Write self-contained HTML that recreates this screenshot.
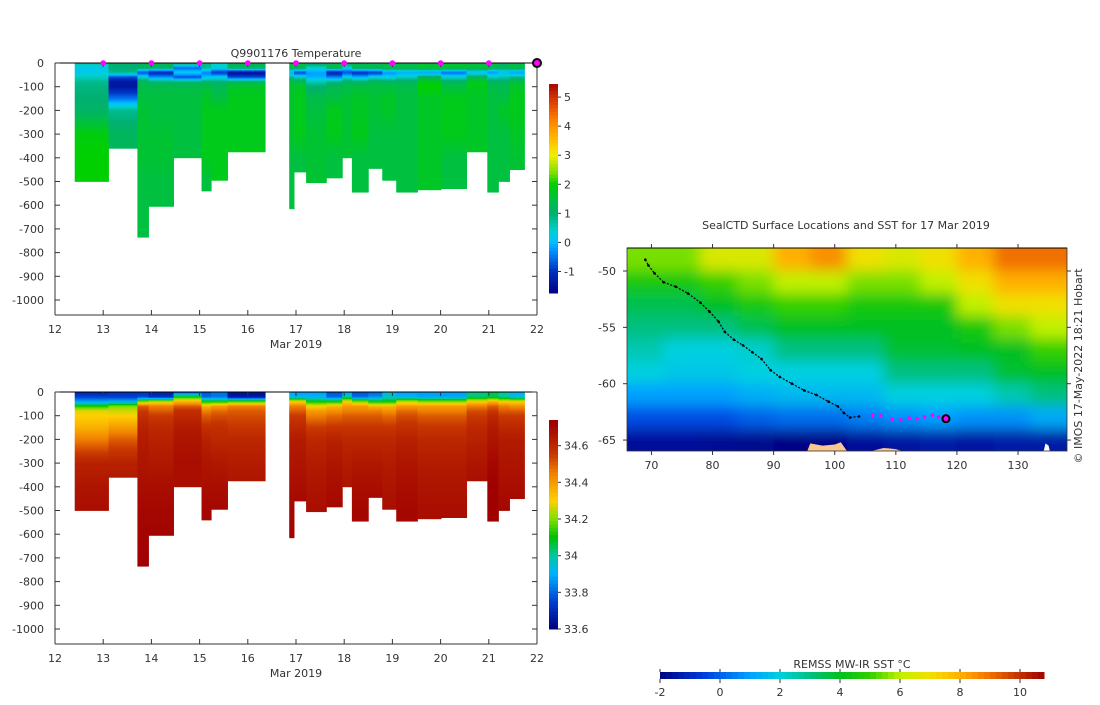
<!DOCTYPE html>
<html><head><meta charset="utf-8"><style>
body{margin:0;background:#fff;width:1100px;height:700px;overflow:hidden}
svg text{font-family:"DejaVu Sans","Liberation Sans",sans-serif;font-size:11px;fill:#333}
</style></head><body>
<svg id="root" width="1100" height="700" xmlns="http://www.w3.org/2000/svg"></svg>
<script>
// ---------- data ----------
const depthLevels=[0,20,40,60,80,100,150,200,300,400,500,750];
const colStart=[12.41,13.11,13.71,13.94,14.46,15.04,15.24,15.58,16.86,16.96,17.21,17.63,17.96,18.16,18.5,18.79,19.08,19.52,20.01,20.54,20.97,21.2,21.43];
const colEnd  =[13.11,13.71,13.94,14.46,15.04,15.24,15.58,16.36,16.96,17.21,17.63,17.96,18.16,18.5,18.79,19.08,19.52,20.01,20.54,20.97,21.2,21.43,21.74];
const colDepth=[500,360,735,605,400,540,495,375,615,460,505,485,400,545,445,495,545,535,530,375,545,500,450];
const tempProfiles=[
[0.7,0.2,0.2,0.5,0.8,0.9,1.0,1.1,1.9,2.0,2.0,2.0],
[1.0,1.0,0.8,-0.8,-1.4,-1.4,-0.5,0.8,1.2,1.2,1.2,1.2],
[1.2,1.2,-0.8,0.4,1.3,1.4,1.5,1.6,1.6,1.6,1.5,1.5],
[1.2,1.2,-1.2,-0.3,1.0,1.4,1.5,1.5,1.6,1.6,1.5,1.5],
[1.2,-0.6,0.2,-0.8,1.0,1.4,1.5,1.5,1.5,1.5,1.5,1.5],
[0.8,0.8,-0.4,0.0,1.1,1.5,1.7,1.8,1.8,1.8,1.5,1.5],
[0.4,0.4,-1.0,0.2,1.0,1.3,1.5,1.8,1.8,1.8,1.8,1.8],
[1.2,1.2,-1.6,-0.8,1.2,1.7,1.8,1.8,1.8,1.8,1.8,1.8],
[1.4,1.4,-0.2,0.8,1.5,1.6,1.6,1.6,1.6,1.5,1.5,1.5],
[1.4,1.4,-0.9,0.5,1.4,1.7,1.8,1.8,1.8,1.5,1.5,1.5],
[1.3,0.4,-0.2,-0.1,0.6,1.0,1.4,1.5,1.6,1.6,1.6,1.6],
[1.3,1.3,-1.3,-0.4,0.9,1.3,1.5,1.8,1.8,1.5,1.5,1.5],
[1.3,0.3,-0.8,0.3,1.2,1.4,1.6,1.6,1.6,1.6,1.6,1.6],
[1.3,1.3,-1.1,-0.1,1.1,1.5,1.7,1.7,1.8,1.5,1.5,1.5],
[1.3,1.3,-1.0,0.3,1.3,1.5,1.6,1.6,1.5,1.5,1.5,1.5],
[1.4,1.4,-0.3,0.2,1.2,1.5,1.7,1.7,1.5,1.5,1.5,1.5],
[1.4,1.4,-0.2,0.5,1.2,1.4,1.5,1.5,1.5,1.5,1.5,1.5],
[1.6,1.6,-0.3,1.2,1.8,2.0,1.7,1.7,1.7,1.7,1.7,1.7],
[1.6,1.6,-0.6,0.4,1.2,1.5,1.8,1.8,1.8,1.5,1.5,1.5],
[1.5,1.5,0.0,1.2,1.8,1.8,1.7,1.7,1.7,1.7,1.7,1.7],
[1.3,1.3,-0.3,0.5,1.2,1.4,1.5,1.5,1.5,1.5,1.5,1.5],
[1.2,1.2,0.0,0.6,1.2,1.3,1.5,1.7,1.5,1.5,1.5,1.5],
[1.4,1.4,-0.3,0.8,1.5,1.7,1.8,1.8,1.7,1.6,1.6,1.6]];
const salProfiles=[
[33.68,33.75,33.88,34.12,34.28,34.30,34.36,34.45,34.62,34.66,34.68,34.68],
[33.72,33.74,33.9,34.2,34.26,34.3,34.4,34.5,34.62,34.66,34.66,34.66],
[33.72,33.75,34.2,34.5,34.55,34.58,34.62,34.64,34.66,34.68,34.7,34.72],
[33.68,33.7,34.25,34.45,34.5,34.55,34.6,34.62,34.65,34.68,34.7,34.72],
[33.75,34.1,34.35,34.5,34.58,34.6,34.64,34.66,34.68,34.68,34.7,34.7],
[33.78,33.8,34.1,34.35,34.45,34.5,34.58,34.62,34.66,34.68,34.7,34.7],
[33.82,33.82,34.1,34.4,34.48,34.52,34.58,34.6,34.65,34.68,34.7,34.7],
[33.65,33.65,34.15,34.45,34.5,34.52,34.56,34.6,34.64,34.66,34.68,34.68],
[33.9,33.9,34.3,34.45,34.5,34.55,34.6,34.64,34.66,34.68,34.7,34.72],
[33.88,33.9,34.3,34.45,34.5,34.55,34.6,34.64,34.66,34.68,34.7,34.7],
[33.88,33.9,34.1,34.3,34.4,34.45,34.55,34.6,34.64,34.66,34.68,34.68],
[33.78,33.8,34.1,34.35,34.42,34.48,34.56,34.62,34.66,34.68,34.7,34.7],
[33.85,34.0,34.3,34.4,34.45,34.5,34.56,34.6,34.64,34.66,34.68,34.68],
[33.78,33.8,34.2,34.4,34.45,34.5,34.56,34.6,34.65,34.68,34.7,34.7],
[33.8,33.85,34.1,34.35,34.45,34.5,34.56,34.6,34.65,34.68,34.7,34.7],
[33.95,33.95,34.1,34.35,34.42,34.48,34.56,34.6,34.64,34.66,34.68,34.68],
[33.88,33.9,34.25,34.4,34.48,34.52,34.58,34.62,34.66,34.68,34.7,34.7],
[33.88,33.88,34.2,34.4,34.45,34.5,34.56,34.6,34.64,34.66,34.68,34.68],
[33.88,33.88,34.2,34.4,34.45,34.5,34.56,34.6,34.64,34.66,34.68,34.68],
[34.02,34.02,34.3,34.45,34.52,34.55,34.6,34.62,34.66,34.68,34.68,34.68],
[34.05,34.05,34.35,34.5,34.55,34.6,34.64,34.66,34.7,34.72,34.72,34.72],
[34.0,34.0,34.3,34.45,34.5,34.55,34.6,34.64,34.66,34.68,34.7,34.7],
[33.92,33.92,34.3,34.42,34.5,34.55,34.6,34.64,34.66,34.68,34.7,34.7]];
const markerDays=[13,14,15,16,17,18,19,20,21];
const dayTicks=[12,13,14,15,16,17,18,19,20,21,22];
const depthTicks=[0,-100,-200,-300,-400,-500,-600,-700,-800,-900,-1000];
const tempCbTicks=[5,4,3,2,1,0,-1];
const salCbTicks=[34.6,34.4,34.2,34,33.8,33.6];
const sstTicks=[-2,0,2,4,6,8,10];
const lonTicks=[70,80,90,100,110,120,130];
const latTicks=[-50,-55,-60,-65];
const sstLats=[-49,-51,-53,-55,-57,-59,-61,-63,-65];
const sstLons=[69,75,81,87,93,99,105,111,117,123,129,135];
const sstGrid=[
[5.5,5.5,6.5,6.5,8,8.5,7,6.5,7,8,9,9],
[4.5,4.5,5,5.5,6,6,5.5,5.5,6,7,8,8],
[3.5,3.5,4,4.5,5,5,4.5,4.5,4.5,6,7,7],
[3,3,3,3.5,4,4,4,4,4,4.5,5.5,6],
[2.5,2,2,2.2,3,3,3,3.8,3.8,4,4,5],
[2,1.8,1.8,2,2,2,2,3,3,3,3.8,4],
[1,1,1,1.3,1.5,1.5,1.5,2,2,2,2.5,3],
[-0.3,-0.3,-0.3,0,0.2,0.2,0.5,0.8,1,0.8,0.8,1.2],
[-1.6,-1.6,-1.7,-1.8,-1.9,-1.9,-1.6,-1.5,-1.4,-1.5,-1.4,-1.4]];
const trackLon=[69,69.5,70.5,72,74,76,78,79.5,81,82,83.5,85,86.5,88,89.5,91,93,95,97,99,100.5,101.5,102.5,104];
const trackLat=[-49,-49.5,-50.2,-51,-51.4,-52,-52.8,-53.6,-54.5,-55.4,-56.1,-56.6,-57.2,-57.8,-58.8,-59.4,-60,-60.6,-61,-61.6,-62,-62.6,-63,-62.9];
const magLon=[106.2,107.5,109.4,110.8,112.2,113.5,114.7,116,117];
const magLat=[-62.8,-62.85,-63.15,-63.2,-63.05,-63.1,-62.95,-62.8,-62.95];
const lastLon=118.2, lastLat=-63.1;

// ---------- helpers ----------
const NS="http://www.w3.org/2000/svg";
const root=document.getElementById('root');
function mk(tag,attrs,parent){const e=document.createElementNS(NS,tag);for(const k in attrs)e.setAttribute(k,attrs[k]);(parent||root).appendChild(e);return e;}
function hex(h){return [parseInt(h.slice(1,3),16),parseInt(h.slice(3,5),16),parseInt(h.slice(5,7),16)];}
function cmap(stops){return v=>{if(v<=stops[0][0])return stops[0][1];const L=stops.length;if(v>=stops[L-1][0])return stops[L-1][1];
 for(let i=0;i<L-1;i++){if(v<=stops[i+1][0]){const t=(v-stops[i][0])/(stops[i+1][0]-stops[i][0]);const a=hex(stops[i][1]),b=hex(stops[i+1][1]);
 return 'rgb('+a.map((x,j)=>Math.round(x+(b[j]-x)*t)).join(',')+')';}}};}
const tempC=cmap([[-1.8,'#000080'],[-1.0,'#0030c0'],[-0.3,'#0090ff'],[0,'#00c0ff'],[0.4,'#00d0d0'],[1.0,'#00b070'],[1.5,'#00c040'],[2.0,'#00d000'],[2.4,'#80e000'],[3.0,'#f0f000'],[3.5,'#ffc000'],[4.2,'#ff8000'],[5.0,'#d03000'],[5.5,'#a00000']]);
const salC=cmap([[33.6,'#000080'],[33.75,'#0040d0'],[33.9,'#00b0ff'],[34.0,'#00c8a0'],[34.1,'#00c000'],[34.2,'#80e000'],[34.3,'#ffd000'],[34.45,'#f08000'],[34.55,'#c83800'],[34.65,'#b01800'],[34.72,'#a00000']]);
const sstC=cmap([[-2,'#000080'],[-0.5,'#0040e0'],[1,'#00a0ff'],[2,'#00d0e0'],[3,'#00c080'],[4,'#00c020'],[5,'#30d000'],[6,'#c0f000'],[7,'#f0e000'],[8,'#ffb000'],[9,'#f07000'],[10,'#c03000'],[10.8,'#a00000']]);
function interp(levels,vals,d){for(let i=0;i<levels.length-1;i++){if(d<=levels[i+1]){const t=(d-levels[i])/(levels[i+1]-levels[i]);return vals[i]+(vals[i+1]-vals[i])*t;}}return vals[vals.length-1];}
const xDay=d=>55+(d-12)*48.2;

function profileChart(name,y0,profiles,cm,cbTop,cbBot,cbMin,cbMax,cbTicks,cbFmt,title,markers){
  const g=mk('g',{});
  
  
  const yD=d=>y0+d*0.237;
  const bottom=y0+252;
  for(let c=0;c<colStart.length;c++){
    const x1=xDay(colStart[c]),x2=xDay(colEnd[c]);
    const cg=mk('g',{},g);
    
    
    for(let d=0;d<colDepth[c];d+=5){
      const v=interp(depthLevels,profiles[c],d+2.5);
      mk('rect',{x:x1.toFixed(2),y:yD(d).toFixed(2),width:(x2-x1+0.4).toFixed(2),height:(Math.min(5,colDepth[c]-d)*0.237+0.4).toFixed(2),fill:cm(v)},cg);
    }
  }
  mk('line',{x1:55,y1:y0,x2:537,y2:y0,stroke:'#000','stroke-width':1},g);
  mk('line',{x1:55,y1:y0,x2:55,y2:bottom,stroke:'#333'},g);
  mk('line',{x1:55,y1:bottom,x2:537,y2:bottom,stroke:'#333'},g);
  mk('line',{x1:537,y1:y0,x2:537,y2:bottom,stroke:'#333'},g);
  for(const t of depthTicks){const y=yD(-t);
    mk('line',{x1:55,y1:y,x2:60,y2:y,stroke:'#333'},g);mk('line',{x1:537,y1:y,x2:532,y2:y,stroke:'#333'},g);
    const tx=mk('text',{x:44,y:y+4,'text-anchor':'end'},g);tx.textContent=t;
    }
  for(const d of dayTicks){const x=xDay(d);
    mk('line',{x1:x,y1:bottom,x2:x,y2:bottom-5,stroke:'#333'},g);mk('line',{x1:x,y1:y0,x2:x,y2:y0+4,stroke:'#333'},g);
    const tx=mk('text',{x:x,y:bottom+18,'text-anchor':'middle'},g);tx.textContent=d;
    }
  const xl=mk('text',{x:296,y:bottom+33,'text-anchor':'middle'},g);xl.textContent='Mar 2019';
  
  if(title){const tt=mk('text',{x:296,y:y0-6,'text-anchor':'middle'},g);tt.textContent=title;
    }
  if(markers){for(const d of markerDays){const m=mk('circle',{cx:xDay(d),cy:y0,r:2.8,fill:'#ff00ff'},g);
      }
    const lm=mk('circle',{cx:xDay(22),cy:y0,r:4,fill:'#ff00ff',stroke:'#000','stroke-width':2},g);
    }
  const cb=mk('g',{},g);
  
  
  const n=60;for(let i=0;i<n;i++){const v=cbMax-(cbMax-cbMin)*(i+0.5)/n;const yy=cbTop+(cbBot-cbTop)*i/n;
    mk('rect',{x:549,y:yy.toFixed(2),width:9,height:((cbBot-cbTop)/n+0.5).toFixed(2),fill:cm(v)},cb);}
  for(const t of cbTicks){const y=cbTop+(cbMax-t)/(cbMax-cbMin)*(cbBot-cbTop);
    mk('line',{x1:558,y1:y,x2:561,y2:y,stroke:'#333'},cb);
    const tx=mk('text',{x:564,y:y+4},cb);tx.textContent=cbFmt(t);
    }
}
profileChart('temperature-chart',63,tempProfiles,tempC,84,293,-1.74,5.45,tempCbTicks,t=>t,'Q9901176  Temperature',true);
profileChart('salinity-chart',392,salProfiles,salC,420,629,33.6,34.74,salCbTicks,t=>t.toFixed(t===34?0:1).replace(/\.0$/,''),null,false);

// ---------- map ----------
const xLon=l=>627+(l-66)*6.11;
const yLat=l=>271+(-50-l)*11.27;
const mg=mk('g',{});


const defs=mk('defs',{},mg);
const cp=mk('clipPath',{id:'mclip'},defs);mk('rect',{x:627,y:248,width:440,height:203},cp);
const fl=mk('filter',{id:'blur',x:'-10%',y:'-10%',width:'120%',height:'120%'},defs);mk('feGaussianBlur',{stdDeviation:7},fl);
const fg=mk('g',{'clip-path':'url(#mclip)'},mg);
mk('rect',{x:627,y:248,width:440,height:203,fill:sstC(2)},fg);
const bg=mk('g',{filter:'url(#blur)'},fg);
for(let r=0;r<sstLats.length;r++)for(let c=0;c<sstLons.length;c++){
  const x=xLon(sstLons[c]-3),y=yLat(sstLats[r]+1);
  const w=6*6.11,h=2*11.27;
  mk('rect',{x:(c===0?x-30:x),y:(r===0?y-30:y),width:w+(c===0||c===sstLons.length-1?30:0)+1,height:h+(r===0||r===sstLats.length-1?30:0)+1,fill:sstC(sstGrid[r][c])},bg);}
mk('path',{d:`M${xLon(95.5)},451 L${xLon(96)},${yLat(-65.3)} L${xLon(98)},${yLat(-65.5)} L${xLon(100)},${yLat(-65.4)} L${xLon(101)},${yLat(-65.2)} L${xLon(102)},451 Z`,fill:'#f9c88e'},fg);
mk('path',{d:`M${xLon(106)},451 L${xLon(108)},${yLat(-65.7)} L${xLon(110)},${yLat(-65.8)} L${xLon(111)},451 Z`,fill:'#f9c88e'},fg);
mk('path',{d:`M${xLon(134.2)},451 L${xLon(134.5)},${yLat(-65.3)} L${xLon(135)},${yLat(-65.5)} L${xLon(135.2)},451 Z`,fill:'#ffffff'},fg);
for(let i=0;i<trackLon.length;i++){const p=mk('circle',{cx:xLon(trackLon[i]),cy:yLat(trackLat[i]),r:1.3,fill:'#000'},fg);
  }
for(let i=0;i<trackLon.length-1;i++){mk('line',{x1:xLon(trackLon[i]),y1:yLat(trackLat[i]),x2:xLon(trackLon[i+1]),y2:yLat(trackLat[i+1]),stroke:'#000','stroke-width':1.2,'stroke-dasharray':'2 1.5'},fg);}
for(let i=0;i<magLon.length;i++){const p=mk('circle',{cx:xLon(magLon[i]),cy:yLat(magLat[i]),r:1.8,fill:'#ff00ff'},fg);
  }
const lp=mk('circle',{cx:xLon(lastLon),cy:yLat(lastLat),r:3.5,fill:'#ff00ff',stroke:'#000','stroke-width':2},fg);

mk('rect',{x:627,y:248,width:440,height:203,fill:'none',stroke:'#333','stroke-width':0.8},mg);
mk('line',{x1:627,y1:248,x2:1067,y2:248,stroke:'#000'},mg);
for(const l of lonTicks){const x=xLon(l);mk('line',{x1:x,y1:451,x2:x,y2:455,stroke:'#333'},mg);mk('line',{x1:x,y1:248,x2:x,y2:244,stroke:'#333'},mg);
  const t=mk('text',{x:x,y:469,'text-anchor':'middle'},mg);t.textContent=l;}
for(const l of latTicks){const y=yLat(l);mk('line',{x1:627,y1:y,x2:623,y2:y,stroke:'#333'},mg);mk('line',{x1:1067,y1:y,x2:1071,y2:y,stroke:'#333'},mg);
  const t=mk('text',{x:616,y:y+4,'text-anchor':'end'},mg);t.textContent=l;}
const mt=mk('text',{x:846,y:229,'text-anchor':'middle'},mg);mt.textContent='SealCTD Surface Locations and SST for 17 Mar 2019';

const cr=mk('text',{x:0,y:0,'text-anchor':'middle',transform:'translate(1082,366) rotate(-90)','font-size':'10'},mg);cr.textContent='© IMOS 17-May-2022 18:21 Hobart';


const sg=mk('g',{});


const xS=v=>660+(v+2)*30;
for(let i=0;i<64;i++){const v=-2+12.8*(i+0.5)/64;mk('rect',{x:xS(-2+12.8*i/64).toFixed(2),y:672,width:(12.8/64*30+0.5).toFixed(2),height:7,fill:sstC(v)},sg);}
for(const t of sstTicks){const x=xS(t);mk('line',{x1:x,y1:679,x2:x,y2:683,stroke:'#333'},sg);mk('line',{x1:x,y1:672,x2:x,y2:669,stroke:'#333'},sg);
  const tx=mk('text',{x:x,y:696,'text-anchor':'middle'},sg);tx.textContent=t;}
const st=mk('text',{x:852,y:668,'text-anchor':'middle'},sg);st.textContent='REMSS MW-IR SST °C';

</script>
</body></html>
